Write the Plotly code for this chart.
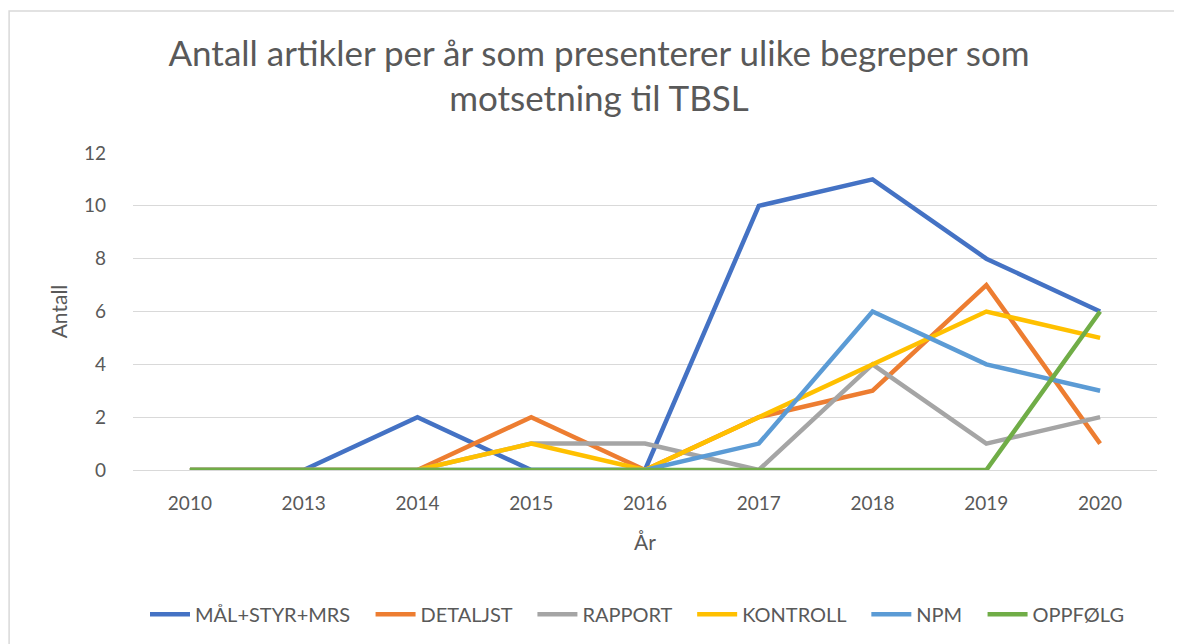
import plotly.graph_objects as go

# Data
years = ["2010", "2013", "2014", "2015", "2016", "2017", "2018", "2019", "2020"]
series_names = ["MÅL+STYR+MRS", "DETALJST", "RAPPORT", "KONTROLL", "NPM", "OPPFØLG"]
maal = [0, 0, 2, 0, 0, 10, 11, 8, 6]
detaljst = [0, 0, 0, 2, 0, 2, 3, 7, 1]
rapport = [0, 0, 0, 1, 1, 0, 4, 1, 2]
kontroll = [0, 0, 0, 1, 0, 2, 4, 6, 5]
npm = [0, 0, 0, 0, 0, 1, 6, 4, 3]
oppfolg = [0, 0, 0, 0, 0, 0, 0, 0, 6]

colors = ["#4472C4", "#ED7D31", "#A5A5A5", "#FFC000", "#5B9BD5", "#70AD47"]
values = [maal, detaljst, rapport, kontroll, npm, oppfolg]

fig = go.Figure()
for name, vals, col in zip(series_names, values, colors):
    fig.add_trace(go.Scatter(
        x=years, y=vals, name=name + "\u00a0\u00a0\u00a0", mode="lines",
        line=dict(color=col, width=4.5),
    ))

txt = "#595959"
font_family = "Lato, 'Open Sans', sans-serif"

fig.update_layout(
    width=1182, height=644,
    margin=dict(l=125, r=33, t=145, b=182),
    paper_bgcolor="white", plot_bgcolor="white",
    font=dict(family=font_family, color=txt),
    title=dict(
        text="Antall artikler per år som presenterer ulike begreper som<br>motsetning til TBSL",
        x=0.5, xanchor="center", y=0.91, yanchor="middle",
        font=dict(size=35, color=txt, family=font_family),
    ),
    xaxis=dict(
        type="category", range=[-0.5, 8.5], showgrid=False, zeroline=False,
        showline=True, linecolor="#d9d9d9", linewidth=1,
        ticks="", ticklabelstandoff=16, tickfont=dict(size=19, color=txt),
        title=dict(text="År", font=dict(size=21, color=txt), standoff=22),
    ),
    yaxis=dict(
        range=[0, 12], dtick=2, showgrid=True, gridcolor="#d9d9d9", gridwidth=1,
        zeroline=False, showline=False, ticks="", ticklabelstandoff=26,
        tickfont=dict(size=19, color=txt),
        title=dict(text="Antall", font=dict(size=21, color=txt), standoff=10),
    ),
    legend=dict(
        orientation="h", x=0.5, xanchor="center", y=-0.455, yanchor="middle",
        font=dict(size=20, color=txt), itemwidth=40, tracegroupgap=0,
    ),
    shapes=[dict(
        type="rect", xref="paper", yref="paper",
        x0=-0.121, x1=1.05, y0=-0.6, y1=1.448,
        line=dict(color="#d9d9d9", width=1.5), fillcolor="rgba(0,0,0,0)",
        layer="below",
    )],
)

fig.write_html("out.html")
